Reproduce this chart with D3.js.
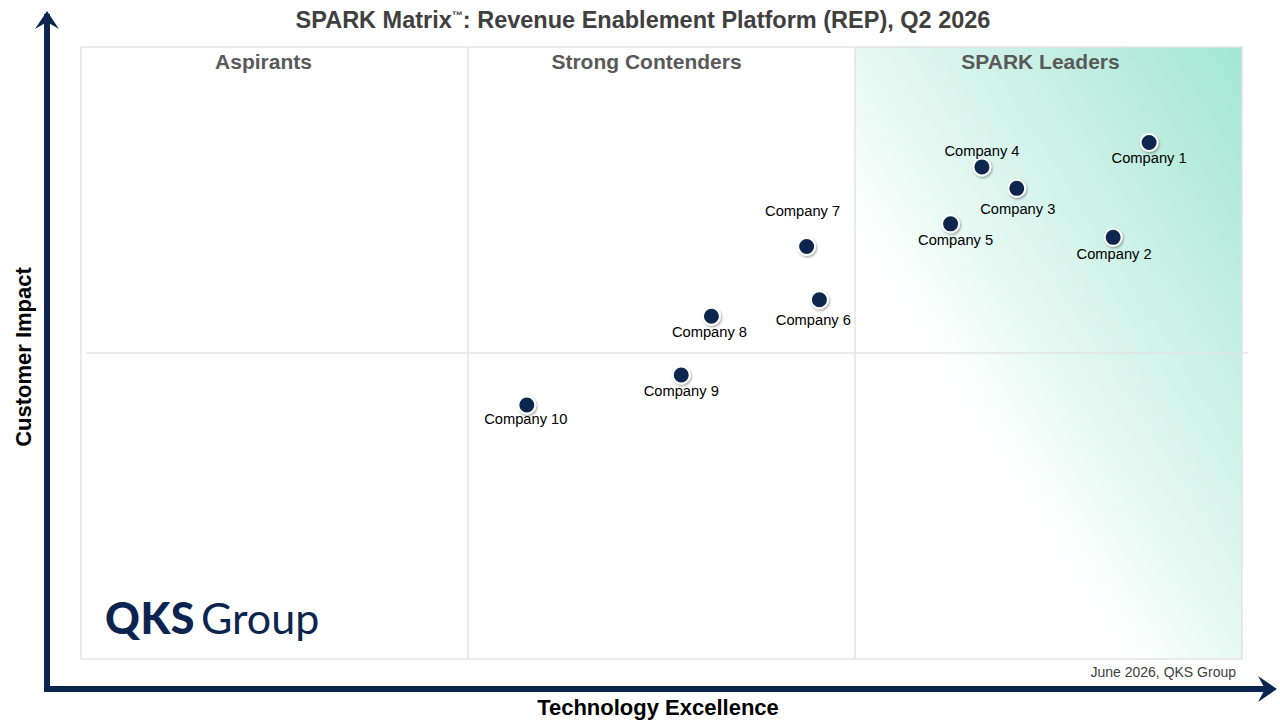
<!DOCTYPE html>
<html>
<head>
<meta charset="utf-8">
<script src="https://cdn.jsdelivr.net/npm/d3@7"></script>
<style>
  body { margin: 0; background: #ffffff; }
  svg { display: block; font-family: "Liberation Sans", Arial, sans-serif; }
</style>
</head>
<body>
<script>
// Vendor names and their scores (0-100 on each axis)
var companies = ["Company 1", "Company 2", "Company 3", "Company 4", "Company 5",
                 "Company 6", "Company 7", "Company 8", "Company 9", "Company 10"];
var techExcellence = [92.0, 88.9, 80.6, 77.6, 74.9, 63.6, 62.5, 54.3, 51.7, 38.4];
var customerImpact = [84.4, 68.9, 76.9, 80.4, 71.1, 58.7, 67.4, 56.0, 46.4, 41.5];

var quadrantNames = ["Aspirants", "Strong Contenders", "SPARK Leaders"];
var xBreaks = [100 / 3, 200 / 3];
var yBreak = 50;

// label offsets relative to each dot (layout only)
var labelOffset = {
  "Company 1": [0, 21], "Company 2": [1, 22], "Company 3": [1, 26],
  "Company 4": [0, -11], "Company 5": [5, 21], "Company 6": [-6, 25],
  "Company 7": [-4, -31], "Company 8": [-2, 21], "Company 9": [0, 21],
  "Company 10": [-1, 19]
};
// headings sit a little left of each third's centre
var headingShift = [-11, -15, -8];

var W = 1280, H = 720;
var box = { left: 81, top: 47, right: 1242, bottom: 659 };
var navy = "#0b2550";

var svg = d3.select("body").append("svg")
    .attr("width", W)
    .attr("height", H);

var x = d3.scaleLinear().domain([0, 100]).range([box.left, box.right]);
var y = d3.scaleLinear().domain([0, 100]).range([box.bottom, box.top]);

var defs = svg.append("defs");

// teal wash in the leaders area, strongest at the top right
var grad = defs.append("linearGradient")
    .attr("id", "leaders")
    .attr("x1", 1).attr("y1", 0).attr("x2", 0).attr("y2", 1);
grad.append("stop").attr("offset", "0%").attr("stop-color", "#a3e7d4");
grad.append("stop").attr("offset", "25%").attr("stop-color", "#c4efe2");
grad.append("stop").attr("offset", "50%").attr("stop-color", "#e6f9f3");
grad.append("stop").attr("offset", "65%").attr("stop-color", "#ffffff");

var shadow = defs.append("filter").attr("id", "shadow")
    .attr("x", "-50%").attr("y", "-50%").attr("width", "200%").attr("height", "200%");
shadow.append("feDropShadow")
    .attr("dx", 1).attr("dy", 1.5).attr("stdDeviation", 1.2)
    .attr("flood-color", "#000").attr("flood-opacity", 0.35);

svg.append("rect")
    .attr("x", x(xBreaks[1])).attr("y", box.top)
    .attr("width", x(100) - x(xBreaks[1]))
    .attr("height", box.bottom - box.top)
    .attr("fill", "url(#leaders)");

// plot frame and dividers
svg.append("rect")
    .attr("x", box.left).attr("y", box.top)
    .attr("width", box.right - box.left)
    .attr("height", box.bottom - box.top)
    .attr("fill", "none")
    .attr("stroke", "#e3e3e3")
    .attr("stroke-width", 1.5);

svg.selectAll("line.vdiv")
    .data(xBreaks)
    .enter().append("line")
    .attr("class", "vdiv")
    .attr("x1", function (d) { return x(d); })
    .attr("x2", function (d) { return x(d); })
    .attr("y1", box.top).attr("y2", box.bottom)
    .attr("stroke", "#e3e3e3").attr("stroke-width", 1.5);

svg.append("line")
    .attr("x1", box.left + 5).attr("x2", box.right + 6)
    .attr("y1", y(yBreak)).attr("y2", y(yBreak))
    .attr("stroke", "#e3e3e3").attr("stroke-width", 1.5);

// quadrant headings
var thirds = [0, xBreaks[0], xBreaks[1], 100];
svg.selectAll("text.quad")
    .data(quadrantNames)
    .enter().append("text")
    .attr("class", "quad")
    .attr("x", function (d, i) { return (x(thirds[i]) + x(thirds[i + 1])) / 2 + headingShift[i]; })
    .attr("y", 69)
    .attr("text-anchor", "middle")
    .style("font-size", "21px")
    .style("font-weight", "bold")
    .style("fill", "#595959")
    .text(function (d) { return d; });

// title
var title = svg.append("text")
    .attr("x", 643).attr("y", 28)
    .attr("text-anchor", "middle")
    .style("font-size", "23.5px")
    .style("font-weight", "bold")
    .style("fill", "#404040");
title.append("tspan").text("SPARK Matrix");
title.append("tspan").attr("dy", -9).style("font-size", "11px").text("\u2122");
title.append("tspan").attr("dy", 9).text(": Revenue Enablement Platform (REP), Q2 2026");

// axes arrows
svg.append("line")
    .attr("x1", 47).attr("x2", 47).attr("y1", 692).attr("y2", 14)
    .attr("stroke", navy).attr("stroke-width", 6);
svg.append("path")
    .attr("d", "M35,29 L47,11 L59,29 L47,22 Z")
    .attr("fill", navy);
svg.append("line")
    .attr("x1", 44).attr("x2", 1272).attr("y1", 689).attr("y2", 689)
    .attr("stroke", navy).attr("stroke-width", 6);
svg.append("path")
    .attr("d", "M1258,676 L1277,689 L1258,702 L1265,689 Z")
    .attr("fill", navy);

svg.append("text")
    .attr("x", 658).attr("y", 715)
    .attr("text-anchor", "middle")
    .style("font-size", "22px")
    .style("font-weight", "bold")
    .style("fill", "#000")
    .text("Technology Excellence");

svg.append("text")
    .attr("transform", "translate(31,357) rotate(-90)")
    .attr("text-anchor", "middle")
    .style("font-size", "22px")
    .style("font-weight", "bold")
    .style("fill", "#000")
    .text("Customer Impact");

svg.append("text")
    .attr("x", 1236).attr("y", 677)
    .attr("text-anchor", "end")
    .style("font-size", "14px")
    .style("fill", "#404040")
    .text("June 2026, QKS Group");

// logo
var logo = svg.append("text")
    .attr("x", 105).attr("y", 634)
    .style("font-family", "Lato, 'Open Sans', sans-serif")
    .style("font-size", "43px")
    .style("fill", navy);
logo.append("tspan").style("font-weight", 900).attr("letter-spacing", "0.5").text("QKS");
logo.append("tspan").attr("dx", 6).style("font-weight", 400).text("Group");

// vendor points
var pts = companies.map(function (c, i) {
  return { name: c, tx: techExcellence[i], ci: customerImpact[i] };
});

var g = svg.selectAll("g.vendor")
    .data(pts)
    .enter().append("g")
    .attr("class", "vendor")
    .attr("transform", function (d) { return "translate(" + x(d.tx) + "," + y(d.ci) + ")"; });

g.append("circle")
    .attr("r", 8.5)
    .attr("fill", navy)
    .attr("stroke", "#ffffff")
    .attr("stroke-width", 2)
    .attr("filter", "url(#shadow)");

g.append("text")
    .attr("x", function (d) { return labelOffset[d.name][0]; })
    .attr("y", function (d) { return labelOffset[d.name][1]; })
    .attr("text-anchor", "middle")
    .style("font-size", "14.7px")
    .style("fill", "#000")
    .text(function (d) { return d.name; });
</script>
</body>
</html>
